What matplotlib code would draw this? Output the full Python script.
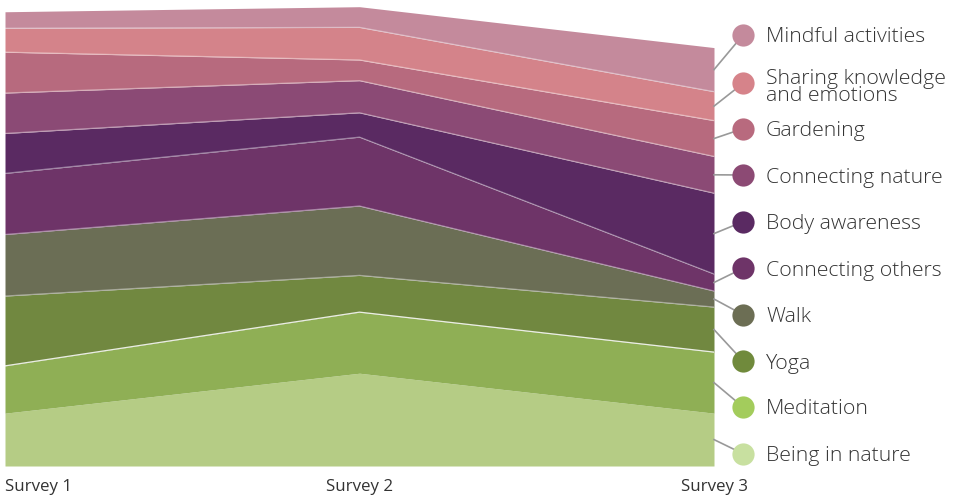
import matplotlib
matplotlib.use("Agg")
import matplotlib.pyplot as plt
from matplotlib.lines import Line2D
import numpy as np

plt.rcParams['font.family'] = ['Open Sans', 'DejaVu Sans']

surveys = ["Survey 1", "Survey 2", "Survey 3"]

# stacking order: bottom to top
series_names = [
    "Being in nature", "Meditation", "Yoga", "Walk", "Connecting others",
    "Body awareness", "Connecting nature", "Gardening",
    "Sharing knowledge\nand emotions", "Mindful activities",
]
being_in_nature = [11.5, 20.2, 11.5]
meditation = [10.3, 13.3, 13.3]
yoga = [15.2, 8.0, 9.8]
walk = [13.4, 15.1, 3.5]
connecting_others = [13.3, 15.0, 3.7]
body_awareness = [8.7, 5.3, 17.6]
connecting_nature = [8.8, 7.0, 8.0]
gardening = [8.9, 4.5, 7.8]
sharing = [5.2, 7.1, 6.3]
mindful = [3.6, 4.5, 9.6]

values = [being_in_nature, meditation, yoga, walk, connecting_others,
          body_awareness, connecting_nature, gardening, sharing, mindful]

area_colors = ["#b5cc85", "#8faf55", "#718840", "#6b6e55", "#6e3468",
               "#5a2a62", "#8b4a75", "#b76a7e", "#d4838a", "#c48a9c"]
dot_colors = ["#c8e0a0", "#a3cc5c", "#708a3c", "#6c6e54", "#6e3468",
              "#5a2a62", "#8c4a74", "#b86a7e", "#d6838a", "#c48a9c"]

W, H = 963, 499
fig = plt.figure(figsize=(W / 100, H / 100), dpi=100)
fig.patch.set_facecolor("white")

left_px, right_px, bottom_px, top_px = 5, 714, 466, 6.7
ax = fig.add_axes([left_px / W, (H - bottom_px) / H,
                   (right_px - left_px) / W, (bottom_px - top_px) / H])

x = np.arange(len(surveys))
data = np.array(values, dtype=float)
cum = np.vstack([np.zeros(len(x)), np.cumsum(data, axis=0)])

for i in range(len(values)):
    ax.fill_between(x, cum[i], cum[i + 1], color=area_colors[i], lw=0, zorder=1)

# thin light seams between the stacked bands
for i in range(2, len(values)):
    alpha = 0.85 if i == 2 else 0.4
    ax.plot(x, cum[i], color="white", lw=0.9, alpha=alpha, zorder=2)

ax.set_xlim(0, 2)
ax.set_ylim(0, 100)
ax.axis("off")

# category labels
label_y = 1 - 487 / H
fig.text(left_px / W, label_y, surveys[0], ha="left", va="center",
         fontsize=12.2, color="#333333")
for xi in (1, 2):
    px = ax.transData.transform((xi, 0))[0]
    fig.text(px / W, label_y, surveys[xi], ha="center", va="center",
             fontsize=12.2, color="#333333")

# legend with leader lines to the last survey's bands
legend_y = [453.7, 407, 361, 314.7, 268.3, 221.7, 175, 128.7, 83.3, 35]
dot_x = 743
text_x = 766
for i, name in enumerate(series_names):
    mid = (cum[i, -1] + cum[i + 1, -1]) / 2
    sx, sy = ax.transData.transform((2, mid))
    ly = H - legend_y[i]
    fig.add_artist(Line2D([sx / W, dot_x / W], [sy / H, ly / H],
                          transform=fig.transFigure, color="#999999",
                          lw=1.2, zorder=3))
    fig.add_artist(Line2D([dot_x / W], [ly / H], transform=fig.transFigure,
                          marker="o", markersize=16, markerfacecolor=dot_colors[i],
                          markeredgewidth=0, linestyle="none", zorder=4))
    ty = ly - (4.5 if "\n" in name else 2.5)
    fig.text(text_x / W, ty / H, name,
             ha="left", va="center", fontsize=15.3, color="#333333",
             linespacing=0.8, fontweight="light")

fig.savefig("out.png", dpi=100, facecolor="white")
